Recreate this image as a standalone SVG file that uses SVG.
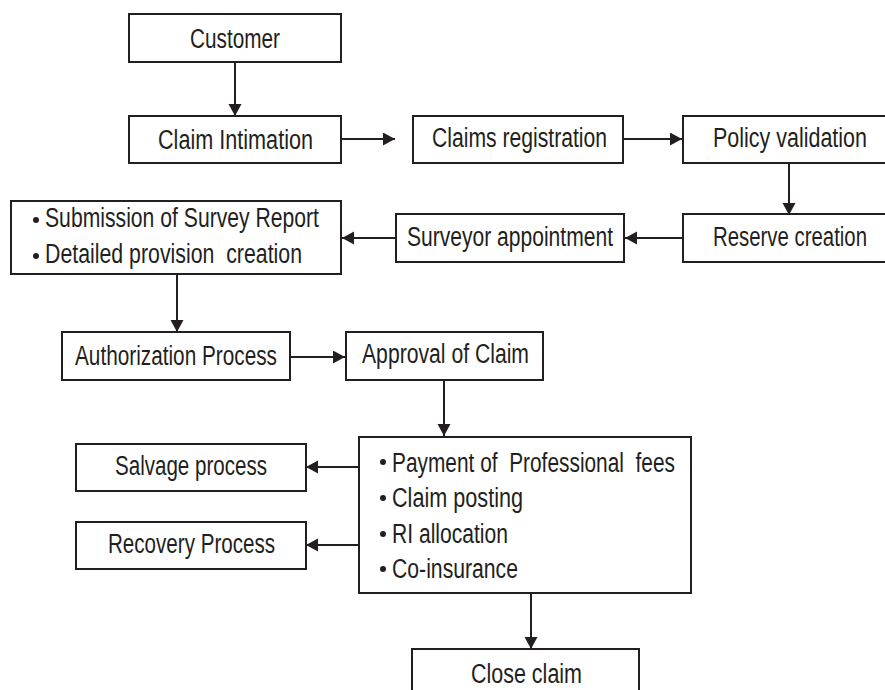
<svg xmlns="http://www.w3.org/2000/svg" width="885" height="690" viewBox="0 0 885 690">
<style>
.box{fill:#fff;stroke:#231f20;stroke-width:2}
.t{font-family:"Liberation Sans Narrow","Liberation Sans",Arial,sans-serif;font-size:27px;fill:#231f20}
.c{fill:none;stroke:#231f20;stroke-width:2;marker-end:url(#ah)}
.b{fill:#231f20}
</style>
<defs>
<marker id="ah" markerUnits="userSpaceOnUse" markerWidth="14" markerHeight="14" refX="12" refY="6.5" orient="auto">
<path d="M0,0 L12,6.5 L0,13 Z" fill="#231f20"/>
</marker>
</defs>
<rect width="885" height="690" fill="#fff"/>
<g id="connectors">
<path class="c" d="M235,62 V116"/>
<path class="c" d="M341,139 H395"/>
<path class="c" d="M624,139 H682"/>
<path class="c" d="M789,163 V215"/>
<path class="c" d="M683,238 H625"/>
<path class="c" d="M396,238 H342"/>
<path class="c" d="M177,274 V332"/>
<path class="c" d="M290,357 H345"/>
<path class="c" d="M444,380 V436"/>
<path class="c" d="M359,467 H306"/>
<path class="c" d="M359,545 H306"/>
<path class="c" d="M531,593 V649"/>
</g>
<g id="customer"><rect class="box" x="129" y="14" width="212" height="48"/><text class="t" x="190" y="48" textLength="90" lengthAdjust="spacingAndGlyphs">Customer</text></g>
<g id="claim-intimation"><rect class="box" x="129" y="116" width="212" height="47"/><text class="t" x="158" y="149" textLength="155" lengthAdjust="spacingAndGlyphs">Claim Intimation</text></g>
<g id="claims-registration"><rect class="box" x="413" y="116" width="210" height="47"/><text class="t" x="432" y="147" textLength="175" lengthAdjust="spacingAndGlyphs">Claims registration</text></g>
<g id="policy-validation"><rect class="box" x="683" y="116" width="215" height="47"/><text class="t" x="713" y="147" textLength="154" lengthAdjust="spacingAndGlyphs">Policy validation</text></g>
<g id="reserve-creation"><rect class="box" x="683" y="214" width="215" height="48"/><text class="t" x="713" y="246" textLength="154" lengthAdjust="spacingAndGlyphs">Reserve creation</text></g>
<g id="surveyor-appointment"><rect class="box" x="396" y="214" width="228" height="48"/><text class="t" x="407" y="246" textLength="206" lengthAdjust="spacingAndGlyphs">Surveyor appointment</text></g>
<g id="survey-report"><rect class="box" x="11" y="201" width="330" height="73"/>
<circle class="b" cx="36" cy="220" r="3"/><text class="t" x="45" y="227" textLength="274" lengthAdjust="spacingAndGlyphs">Submission of Survey Report</text>
<circle class="b" cx="36" cy="256" r="3"/><text class="t" x="45" y="263" textLength="257" lengthAdjust="spacingAndGlyphs" xml:space="preserve">Detailed provision  creation</text></g>
<g id="authorization"><rect class="box" x="62" y="332" width="228" height="48"/><text class="t" x="75" y="365" textLength="202" lengthAdjust="spacingAndGlyphs">Authorization Process</text></g>
<g id="approval"><rect class="box" x="346" y="332" width="197" height="48"/><text class="t" x="362" y="363" textLength="167" lengthAdjust="spacingAndGlyphs">Approval of Claim</text></g>
<g id="payment"><rect class="box" x="359" y="437" width="332" height="156"/>
<circle class="b" cx="383" cy="462" r="3"/><text class="t" x="392" y="472" textLength="283" lengthAdjust="spacingAndGlyphs" xml:space="preserve">Payment of  Professional  fees</text>
<circle class="b" cx="383" cy="498" r="3"/><text class="t" x="392" y="507" textLength="131" lengthAdjust="spacingAndGlyphs">Claim posting</text>
<circle class="b" cx="383" cy="534" r="3"/><text class="t" x="392" y="543" textLength="116" lengthAdjust="spacingAndGlyphs">RI allocation</text>
<circle class="b" cx="383" cy="569" r="3"/><text class="t" x="392" y="578" textLength="126" lengthAdjust="spacingAndGlyphs">Co-insurance</text></g>
<g id="salvage"><rect class="box" x="76" y="444" width="230" height="47"/><text class="t" x="115" y="475" textLength="152" lengthAdjust="spacingAndGlyphs">Salvage process</text></g>
<g id="recovery"><rect class="box" x="76" y="522" width="230" height="47"/><text class="t" x="108" y="553" textLength="167" lengthAdjust="spacingAndGlyphs">Recovery Process</text></g>
<g id="close-claim"><rect class="box" x="412" y="649" width="227" height="60"/><text class="t" x="471" y="683" textLength="111" lengthAdjust="spacingAndGlyphs">Close claim</text></g>
</svg>
